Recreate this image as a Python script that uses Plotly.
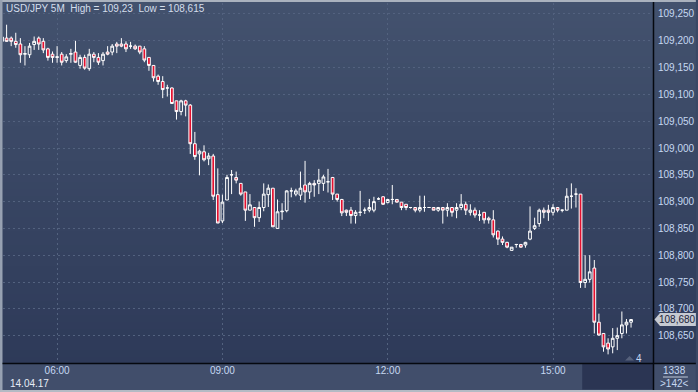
import pandas as pd
import plotly.graph_objects as go

# ---- data (USD/JPY 5M, 14.04.17) ----
start_time = "2017-04-14 05:00"
open_ = [109.199, 109.205, 109.205, 109.199, 109.194, 109.175, 109.174, 109.193, 109.205, 109.199,
         109.185, 109.175, 109.169, 109.175, 109.163, 109.175, 109.179, 109.154, 109.169, 109.148,
         109.175, 109.169, 109.163, 109.179, 109.179, 109.194, 109.194, 109.194, 109.190, 109.190,
         109.190, 109.185, 109.169, 109.154, 109.134, 109.124, 109.112, 109.112, 109.088, 109.068,
         109.088, 109.080, 109.008, 108.989, 108.993, 108.980, 108.985, 108.913, 108.864, 108.903,
         108.950, 108.945, 108.934, 108.918, 108.884, 108.889, 108.870, 108.889, 108.913, 108.925,
         108.850, 108.881, 108.883, 108.920, 108.914, 108.912, 108.931, 108.918, 108.934, 108.934,
         108.934, 108.937, 108.945, 108.914, 108.904, 108.884, 108.884, 108.874, 108.880, 108.884,
         108.884, 108.884, 108.905, 108.909, 108.898, 108.904, 108.904, 108.899, 108.895, 108.889,
         108.889, 108.884, 108.889, 108.889, 108.889, 108.884, 108.889, 108.884, 108.889, 108.884,
         108.889, 108.895, 108.880, 108.884, 108.875, 108.880, 108.869, 108.866, 108.845, 108.830,
         108.824, 108.809, 108.820, 108.820, 108.819, 108.830, 108.850, 108.859, 108.884, 108.884,
         108.880, 108.889, 108.884, 108.884, 108.910, 108.914, 108.914, 108.749, 108.755, 108.776,
         108.675, 108.654, 108.636, 108.629, 108.645, 108.654, 108.670, 108.675]
high = [109.208, 109.230, 109.208, 109.215, 109.205, 109.190, 109.196, 109.208, 109.208, 109.205,
        109.187, 109.180, 109.190, 109.179, 109.175, 109.185, 109.200, 109.174, 109.174, 109.185,
        109.179, 109.177, 109.179, 109.190, 109.194, 109.198, 109.205, 109.199, 109.198, 109.193,
        109.190, 109.190, 109.169, 109.154, 109.137, 109.134, 109.118, 109.113, 109.088, 109.090,
        109.090, 109.082, 109.030, 108.997, 109.005, 108.991, 108.989, 108.962, 108.913, 108.950,
        108.959, 108.956, 108.934, 108.918, 108.914, 108.889, 108.900, 108.934, 108.932, 108.925,
        108.904, 108.897, 108.921, 108.926, 108.924, 108.956, 108.976, 108.937, 108.940, 108.961,
        108.950, 108.961, 108.946, 108.914, 108.905, 108.885, 108.890, 108.884, 108.920, 108.889,
        108.905, 108.909, 108.908, 108.910, 108.905, 108.931, 108.904, 108.899, 108.895, 108.890,
        108.889, 108.911, 108.911, 108.890, 108.889, 108.890, 108.890, 108.897, 108.890, 108.897,
        108.914, 108.900, 108.895, 108.889, 108.884, 108.880, 108.872, 108.884, 108.846, 108.835,
        108.825, 108.815, 108.821, 108.821, 108.825, 108.891, 108.870, 108.887, 108.889, 108.894,
        108.895, 108.890, 108.885, 108.925, 108.934, 108.925, 108.914, 108.800, 108.800, 108.791,
        108.691, 108.654, 108.645, 108.664, 108.665, 108.695, 108.681, 108.681]
low = [109.198, 109.198, 109.190, 109.187, 109.159, 109.154, 109.168, 109.183, 109.183, 109.177,
       109.163, 109.159, 109.159, 109.154, 109.159, 109.159, 109.159, 109.148, 109.146, 109.144,
       109.160, 109.155, 109.154, 109.173, 109.173, 109.177, 109.188, 109.179, 109.185, 109.183,
       109.175, 109.160, 109.144, 109.124, 109.118, 109.093, 109.096, 109.082, 109.053, 109.061,
       109.059, 108.989, 108.978, 108.949, 108.975, 108.968, 108.903, 108.860, 108.860, 108.903,
       108.914, 108.934, 108.911, 108.864, 108.884, 108.853, 108.862, 108.882, 108.890, 108.853,
       108.850, 108.866, 108.880, 108.908, 108.910, 108.903, 108.898, 108.905, 108.909, 108.914,
       108.920, 108.917, 108.903, 108.900, 108.873, 108.873, 108.859, 108.859, 108.873, 108.877,
       108.880, 108.880, 108.903, 108.894, 108.897, 108.895, 108.898, 108.884, 108.884, 108.887,
       108.880, 108.880, 108.881, 108.888, 108.884, 108.881, 108.859, 108.872, 108.872, 108.869,
       108.884, 108.875, 108.874, 108.870, 108.864, 108.859, 108.859, 108.833, 108.819, 108.819,
       108.813, 108.809, 108.814, 108.814, 108.814, 108.828, 108.847, 108.853, 108.869, 108.864,
       108.874, 108.880, 108.880, 108.884, 108.887, 108.889, 108.739, 108.739, 108.749, 108.654,
       108.650, 108.620, 108.615, 108.617, 108.623, 108.645, 108.654, 108.665]
close = [109.207, 109.199, 109.199, 109.193, 109.174, 109.176, 109.190, 109.199, 109.194, 109.183,
         109.169, 109.169, 109.170, 109.160, 109.170, 109.176, 109.160, 109.169, 109.149, 109.175,
         109.169, 109.160, 109.175, 109.175, 109.190, 109.190, 109.190, 109.185, 109.190, 109.185,
         109.179, 109.164, 109.154, 109.131, 109.124, 109.109, 109.112, 109.083, 109.068, 109.088,
         109.080, 109.008, 108.984, 108.994, 108.978, 108.985, 108.910, 108.860, 108.899, 108.945,
         108.950, 108.940, 108.914, 108.884, 108.894, 108.870, 108.889, 108.914, 108.925, 108.853,
         108.881, 108.882, 108.920, 108.920, 108.920, 108.925, 108.918, 108.934, 108.931, 108.940,
         108.946, 108.937, 108.914, 108.904, 108.879, 108.880, 108.874, 108.880, 108.880, 108.884,
         108.889, 108.900, 108.905, 108.895, 108.904, 108.904, 108.899, 108.889, 108.889, 108.889,
         108.884, 108.889, 108.889, 108.889, 108.884, 108.889, 108.884, 108.889, 108.880, 108.889,
         108.895, 108.884, 108.884, 108.875, 108.875, 108.866, 108.866, 108.838, 108.830, 108.824,
         108.815, 108.815, 108.820, 108.815, 108.824, 108.845, 108.855, 108.884, 108.880, 108.880,
         108.889, 108.884, 108.884, 108.910, 108.910, 108.914, 108.749, 108.755, 108.769, 108.675,
         108.651, 108.629, 108.625, 108.645, 108.650, 108.670, 108.675, 108.680]
y_tick_vals = [108.65, 108.70, 108.75, 108.80, 108.85, 108.90, 108.95,
               109.00, 109.05, 109.10, 109.15, 109.20, 109.25]
x_tick_vals = ["2017-04-14 06:00", "2017-04-14 09:00", "2017-04-14 12:00", "2017-04-14 15:00"]
x_tick_text = ["06:00", "09:00", "12:00", "15:00"]
date_label = "14.04.17"
symbol = "USD/JPY 5M"
bars_count = "1338"
zoom_label = ">142<"
marker_label = "4"

times = pd.date_range(start_time, periods=len(close), freq="5min")

# ---- geometry helpers (pixel -> paper) ----
W, H = 698, 392
L, R, T, B = 3, 43, 3, 29
PW, PH = W - L - R, H - T - B


def xp(px):
    return (px - L) / PW


def yp(py):
    return (H - B - py) / PH


def fmt(v, nd=None):
    s = f"{v:g}" if nd is None else f"{v:.{nd}f}"
    return s.replace(".", ",")


RED = "#e4102f"
TXT = "#c6d8f2"
FS = 10

fig = go.Figure(go.Candlestick(
    x=times, open=open_, high=high, low=low, close=close,
    increasing=dict(line=dict(color="white", width=1), fillcolor="rgba(0,0,0,0)"),
    decreasing=dict(line=dict(color="white", width=1), fillcolor=RED),
    whiskerwidth=0, showlegend=False, hoverinfo="skip",
))

shapes = []
# background gradient
N = 56
top_c, bot_c = (67, 82, 110), (44, 56, 87)
for i in range(N):
    p0, p1 = i * H / N, (i + 1) * H / N
    t = (p0 + p1) / 2 / H
    c = tuple(round(a + (b - a) * t) for a, b in zip(top_c, bot_c))
    shapes.append(dict(type="rect", xref="paper", yref="paper", layer="below",
                       x0=xp(0), x1=xp(W), y0=yp(p1 + 0.5), y1=yp(p0),
                       fillcolor=f"rgb{c}", line=dict(width=0)))
# bottom axis strip
shapes.append(dict(type="rect", xref="paper", yref="paper", layer="below",
                   x0=xp(0), x1=xp(W), y0=yp(H), y1=yp(363),
                   fillcolor="#414e6b", line=dict(width=0)))
shapes.append(dict(type="rect", xref="paper", yref="paper", layer="below",
                   x0=xp(584), x1=xp(655), y0=yp(389.5), y1=yp(364),
                   fillcolor="#2b3553", line=dict(width=0)))
# borders
shapes.append(dict(type="rect", xref="paper", yref="paper", layer="above",
                   x0=xp(0), x1=xp(W), y0=yp(2), y1=yp(0), fillcolor="#aab2be", line=dict(width=0)))
shapes.append(dict(type="rect", xref="paper", yref="paper", layer="above",
                   x0=xp(0), x1=xp(2.5), y0=yp(H), y1=yp(0), fillcolor="#98a2b2", line=dict(width=0)))
shapes.append(dict(type="rect", xref="paper", yref="paper", layer="above",
                   x0=xp(0), x1=xp(W), y0=yp(H), y1=yp(390), fillcolor="#b4bac4", line=dict(width=0)))
# black axis lines
shapes.append(dict(type="line", xref="paper", yref="paper", layer="above",
                   x0=xp(2.5), x1=xp(W), y0=yp(363.5), y1=yp(363.5), line=dict(color="#05080f", width=1.5)))
shapes.append(dict(type="line", xref="paper", yref="paper", layer="above",
                   x0=xp(655.5), x1=xp(655.5), y0=yp(390), y1=yp(2), line=dict(color="#05080f", width=1.5)))
# bottom-right separator
shapes.append(dict(type="line", xref="paper", yref="paper", layer="above",
                   x0=xp(665), x1=xp(690), y0=yp(377), y1=yp(377), line=dict(color="#c0c8d8", width=1)))
# marker triangle
shapes.append(dict(type="path", xref="paper", yref="paper", layer="above",
                   path=f"M {xp(627)} {yp(360.5)} L {xp(636)} {yp(360.5)} L {xp(631.5)} {yp(356)} Z",
                   fillcolor="#56617b", line=dict(width=0)))
# last price tag
last = close[-1]
hh = 6.5 * (0.6 / 321.7)
shapes.append(dict(type="path", xref="paper", yref="y", layer="above",
                   path=(f"M {xp(656.5)} {last} L {xp(662)} {last + hh} L {xp(698)} {last + hh} "
                         f"L {xp(698)} {last - hh} L {xp(662)} {last - hh} Z"),
                   fillcolor="#c6cad2", line=dict(width=0)))

FONT = "Liberation Sans, Arial, sans-serif"
annotations = [
    dict(xref="paper", yref="paper", x=xp(4), y=yp(8.5), xanchor="left", yanchor="middle",
         text=f"{symbol}  High = {fmt(max(high))}  Low = {fmt(min(low))}", showarrow=False,
         font=dict(family=FONT, size=FS, color="#d4deec")),
    dict(xref="paper", yref="y", x=xp(679.5), y=last, xanchor="center", yanchor="middle",
         text=fmt(last, 3), showarrow=False, font=dict(family=FONT, size=FS, color="#1a2238")),
    dict(xref="paper", yref="paper", x=xp(29.5), y=yp(383.5), xanchor="center", yanchor="middle",
         text=date_label, showarrow=False, font=dict(family=FONT, size=FS, color="#e6ecf6")),
    dict(xref="paper", yref="paper", x=xp(677), y=yp(370.5), xanchor="center", yanchor="middle",
         text=bars_count, showarrow=False, font=dict(family=FONT, size=FS, color=TXT)),
    dict(xref="paper", yref="paper", x=xp(677), y=yp(383.5), xanchor="center", yanchor="middle",
         text=zoom_label, showarrow=False, font=dict(family=FONT, size=FS, color=TXT)),
    dict(xref="paper", yref="paper", x=xp(640.5), y=yp(358.5), xanchor="center", yanchor="middle",
         text=marker_label, showarrow=False, font=dict(family=FONT, size=FS, color=TXT)),
]

GRID = "#53627f"
fig.update_layout(
    width=W, height=H, margin=dict(l=L, r=R, t=T, b=B, pad=0),
    paper_bgcolor="#3a4764", plot_bgcolor="rgba(0,0,0,0)",
    separators=",.", shapes=shapes, annotations=annotations, showlegend=False,
    font=dict(family=FONT, size=FS, color=TXT), boxgap=0.15,
    xaxis=dict(type="date", range=["2017-04-14 05:01:05", "2017-04-14 16:48:54"],
               rangeslider=dict(visible=False), tickvals=x_tick_vals, ticktext=x_tick_text,
               showgrid=True, gridcolor=GRID, griddash="2px,3px", gridwidth=1,
               zeroline=False, showline=False, ticks="", ticklen=0,
               tickfont=dict(family=FONT, size=FS, color=TXT), fixedrange=True),
    yaxis=dict(side="right", range=[108.5989, 109.2705], tickvals=y_tick_vals,
               tickformat=".3f", showgrid=True, gridcolor=GRID, griddash="2px,3px", gridwidth=1,
               zeroline=False, showline=False, ticks="outside", ticklen=2,
               tickcolor="rgba(0,0,0,0)", tickfont=dict(family=FONT, size=FS, color=TXT),
               fixedrange=True),
)

fig.write_html("out.html", config={"displayModeBar": False},
               post_script="document.body.style.margin='0';document.body.style.overflow='hidden';")
